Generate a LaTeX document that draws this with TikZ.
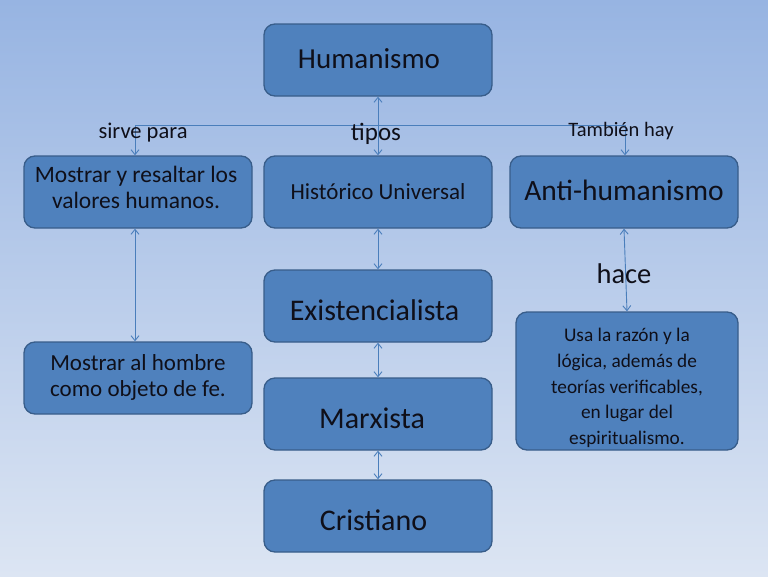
\documentclass[tikz,border=0pt]{standalone}
\usepackage{fontspec}
\setmainfont{Carlito}
\usetikzlibrary{arrows.meta}
\definecolor{boxfill}{RGB}{79,129,189}
\definecolor{boxline}{RGB}{56,93,138}
\definecolor{conncol}{RGB}{74,126,187}
\definecolor{bgtop}{RGB}{151,180,226}
\definecolor{bgbot}{RGB}{220,229,243}
\definecolor{txt}{RGB}{15,15,25}
\tikzset{
  box/.style={draw=boxline, fill=boxfill, line width=1.3pt, rounded corners=11pt,
    minimum width=228pt, minimum height=72pt, inner sep=0pt},
  conn/.style={draw=conncol, line width=0.9pt},
  tipb/.style={-{Straight Barb[length=5pt,width=8pt]}},
  tipbb/.style={{Straight Barb[length=5pt,width=8pt]}-{Straight Barb[length=5pt,width=8pt]}},
  lbl/.style={inner sep=0pt, text=txt, align=center}
}
\begin{document}
\begin{tikzpicture}[x=1pt,y=-1pt]
\shade[top color=bgtop, bottom color=bgbot] (0,0) rectangle (768,576);
\useasboundingbox (0,0) rectangle (768,576);

% boxes
\node[box] (h) at (378,60) {};
\node[box] (m1) at (138,192) {};
\node[box] (hu) at (378,192) {};
\node[box] (anti) at (624,192) {};
\node[box] (ex) at (378,306) {};
\node[box] (m2) at (138,378) {};
\node[box] (mar) at (378,414) {};
\node[box] (cr) at (378,516) {};
\node[box, minimum width=222pt, minimum height=138pt] (usa) at (627,381) {};

% box texts
\node[lbl, font=\fontsize{29}{34}\selectfont] (ht) at (369,59) {Humanismo};
\node[lbl, font=\fontsize{23.5}{26}\selectfont] (m1t) at (136,187) {Mostrar y resaltar los\\valores humanos.};
\node[lbl, font=\fontsize{23}{26}\selectfont] (hut) at (378,192) {Histórico Universal};
\node[lbl, font=\fontsize{29.5}{34}\selectfont] (antit) at (624,190) {Anti-humanismo};
\node[lbl, font=\fontsize{30}{34}\selectfont] (ext) at (374.5,310) {Existencialista};
\node[lbl, font=\fontsize{23}{26}\selectfont] (m2t) at (138,377) {Mostrar al hombre\\como objeto de fe.};
\node[lbl, font=\fontsize{30}{34}\selectfont] (mart) at (372,418) {Marxista};
\node[lbl, font=\fontsize{30}{34}\selectfont] (crt) at (373.5,520) {Cristiano};
\node[lbl, font=\fontsize{19.3}{25.7}\selectfont] (usat) at (627,388)
  {Usa la razón y la\\lógica, además de\\teorías verificables,\\en lugar del\\espiritualismo.};

% connectors
\coordinate (jL) at (135,125);
\coordinate (jR) at (625,125);
\draw[conn] (jL) -- (jR);
\draw[conn, tipb] (jL) -- (jL |- m1.north);
\draw[conn, tipb] (jR) -- (jR |- anti.north);
\draw[conn, tipbb] (h.south) -- (hu.north);
\draw[conn, tipbb] ([xshift=-3pt]m1.south) -- ([xshift=-3pt]m2.north);
\draw[conn, tipbb] (hu.south) -- (ex.north);
\draw[conn, tipbb] (ex.south) -- (mar.north);
\draw[conn, tipbb] (mar.south) -- (cr.north);
\draw[conn, tipbb] (anti.south) -- (usa.north);

% connector labels
\node[lbl, font=\fontsize{22.5}{26}\selectfont] (sirve) at (143,133) {sirve para};
\node[lbl, font=\fontsize{25}{30}\selectfont] (tipos) at (376,134) {tipos};
\node[lbl, font=\fontsize{20.5}{24}\selectfont] (tamb) at (621,131) {También hay};
\node[lbl, font=\fontsize{28.5}{34}\selectfont] (hace) at (624,274) {hace};
\end{tikzpicture}
\end{document}
